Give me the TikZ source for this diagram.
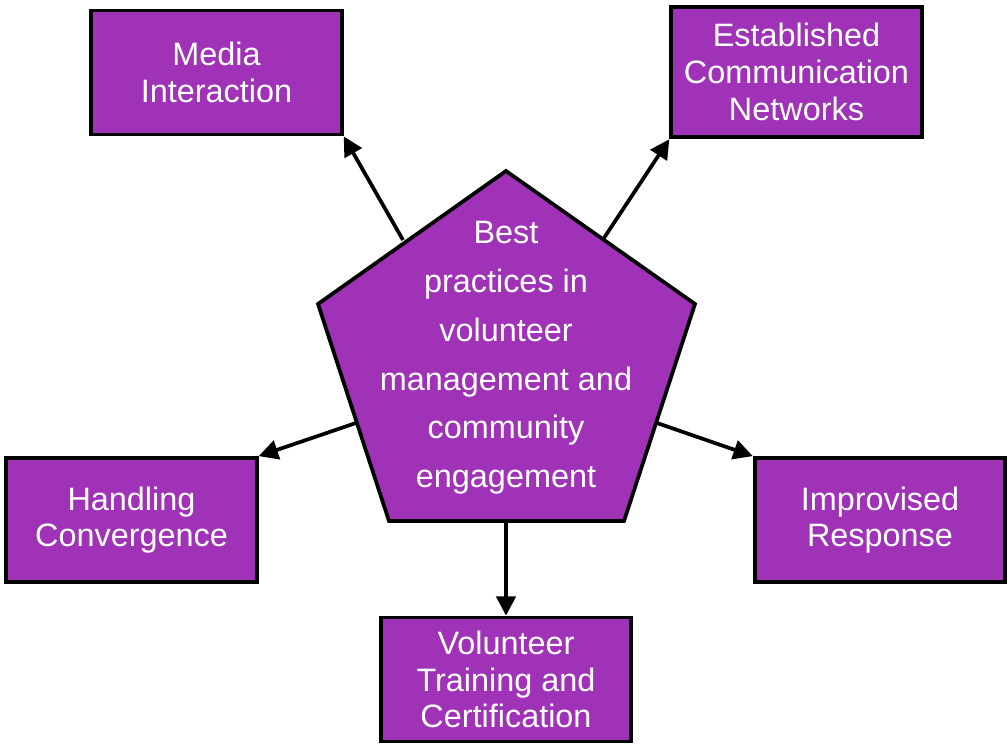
\documentclass[tikz,border=0pt]{standalone}
\usepackage{fontspec}
\setmainfont{Liberation Sans}
\usetikzlibrary{arrows.meta}
\definecolor{boxpurple}{HTML}{A032B8}
\tikzset{
  topic/.style={draw=black, line width=2.8pt, fill=boxpurple, text=white, align=center,
    minimum width=188pt, minimum height=93pt, inner sep=0pt,
    font=\fontsize{24.3}{27.5}\selectfont},
  link/.style={line width=2.8pt, -{Triangle[length=14.5pt,width=14.5pt]}}
}
\begin{document}
\begin{tikzpicture}[x=0.75pt, y=-0.75pt]
\useasboundingbox (0,0) rectangle (1008,745);

% Pentagon corners
\coordinate (p1) at (506,171);
\coordinate (p2) at (695,304);
\coordinate (p3) at (624,521);
\coordinate (p4) at (389,521);
\coordinate (p5) at (318,304);
\draw[line width=2.8pt, fill=boxpurple, line join=miter] (p1) -- (p2) -- (p3) -- (p4) -- (p5) -- cycle;
\node[text=white, align=center, font=\fontsize{24.3}{36.6}\selectfont] (core) at (506,358)
  {Best\\practices in\\volunteer\\management and\\community\\engagement};

% Outer boxes
\node[topic] (media) at (216.5,72.5) {Media\\Interaction};
\node[topic, minimum height=98pt] (network) at (796.5,72) {Established\\Communication\\Networks};
\node[topic] (converge) at (131.5,520) {Handling\\Convergence};
\node[topic] (improv) at (880,520) {Improvised\\Response};
\node[topic] (training) at (506,679.5) {Volunteer\\Training and\\Certification};

% Where the arrows leave the pentagon
\coordinate (sm) at (403,240);
\coordinate (sn) at (604,238);
\coordinate (sc) at (356,423);
\coordinate (si) at (657,423);
\coordinate (st) at (506,521);

% Arrows
\draw[link] (sm) -- (media.south east);
\draw[link] (sn) -- (network.south west);
\draw[link] (sc) -- (converge.north east);
\draw[link] (si) -- (improv.north west);
\draw[link] (st) -- (training.north);
\end{tikzpicture}
\end{document}
